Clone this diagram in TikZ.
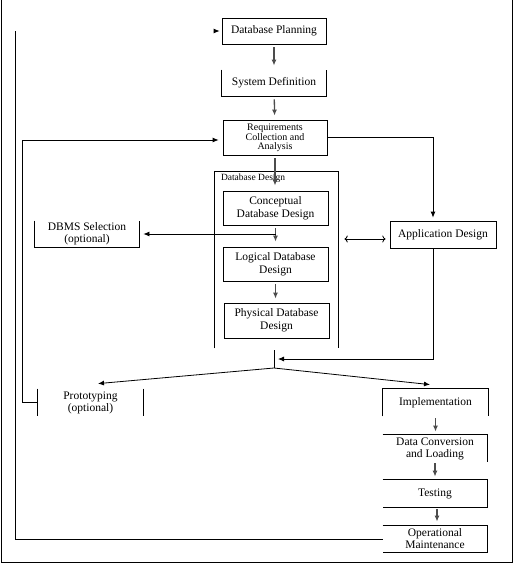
\documentclass[tikz,border=0pt]{standalone}
\usepackage{fontspec}
\setmainfont{Liberation Serif}
\usetikzlibrary{arrows.meta,calc}
\tikzset{
    stage/.style={minimum width=104pt, minimum height=26pt, inner sep=0pt, align=center,
        font=\fontsize{11.5}{12}\selectfont},
    tall/.style={minimum width=105pt, minimum height=34pt, font=\fontsize{11.5}{13}\selectfont},
    flow/.style={-{Latex[length=6pt,width=5pt]}, line width=1.3pt, black!70,
        shorten >=4pt, shorten <=3pt},
    link/.style={-{Latex[length=6pt,width=5pt]}, line width=0.8pt},
}
\begin{document}
\begin{tikzpicture}[x=1pt, y=-1pt, line width=0.8pt]
    \useasboundingbox (0,0) rectangle (516,567);
    \draw (1,0) |- (512,562) -- (512,0);
    \node[stage, draw] (plan) at (274,31) {Database Planning};
    \node[stage] (sysdef) at (274,83) {System Definition};
    \node[stage, draw, minimum height=35pt, font=\fontsize{10}{9}\selectfont] (req) at (275,137.5) {Requirements\\Collection and\\Analysis};
    \node[minimum width=123pt, minimum height=176pt, inner sep=0pt] (dbd) at (276.5,260) {};
    \node[font=\fontsize{9.5}{10}\selectfont, anchor=north west, inner sep=1pt] (dbdlabel) at ([xshift=5pt,yshift=-1pt]dbd.north west) {Database Design};
    \node[stage, tall, draw] (concept) at (275.5,208) {Conceptual\\Database Design};
    \node[stage, tall, draw] (logical) at (275.5,264) {Logical Database\\Design};
    \node[stage, tall, draw, minimum height=35pt] (physical) at (276.5,320.5) {Physical Database\\Design};
    \node[stage] (dbms) at (87,234) {DBMS Selection\\(optional)};
    \node[stage, draw, minimum width=106pt, minimum height=27pt] (app) at (443,234.5) {Application Design};
    \node[stage, minimum width=105pt, minimum height=27pt] (proto) at (90.5,402.5) {Prototyping\\(optional)};
    \node[stage, minimum width=105pt, minimum height=27pt] (impl) at (435.5,402.5) {Implementation};
    \node[stage, minimum height=27pt] (conv) at (435,448.5) {Data Conversion\\and Loading};
    \node[stage, minimum height=27pt] (test) at (435,493.5) {Testing};
    \node[stage] (oper) at (435,539) {Operational\\Maintenance};
    \coordinate (forktop) at (274,350);
    \coordinate (fork) at (274,368);
    % open sides, as in the original
    \draw (sysdef.north west) -- (sysdef.south west) -- (sysdef.south east) -- (sysdef.north east);
    \draw (dbd.south west) |- (dbd.north east) -- (dbd.south east);
    \draw (dbms.north west) |- (dbms.south east) -- (dbms.north east);
    \draw (proto.north west) -- (proto.south west) (proto.north east) -- (proto.south east);
    \draw (impl.south west) |- (impl.north east) -- (impl.south east);
    \draw (conv.north west) -| (conv.south east);
    \draw (test.north west) -| (test.south east) -- (test.south west);
    \draw (oper.north west) -| (oper.south east) -- (oper.south west);
    \draw[flow] (plan) -- (sysdef);
    \draw[flow] (sysdef) -- (req);
    \draw[flow, shorten >=5pt] (req.south) -- (req.south |- concept.north);
    \draw[flow, shorten >=5pt] (concept.south) -- (concept.south |- logical.north);
    \draw[link, shorten >=4pt] (concept.south |- dbms.east) -- (dbms.east);
    \draw[flow] (logical.south) -- (logical.south |- physical.north);
    \draw[link, <->, shorten <=6pt, shorten >=4pt] ([yshift=-4.5pt]dbd.east |- app.west) -- ([yshift=-4.5pt]app.west);
    \draw[link, shorten >=3pt] (req.east) -| ([xshift=-10pt]app.north);
    \draw (forktop) -- (fork);
    \draw[link, shorten >=4pt] ([xshift=-10pt]app.south) |- ($(forktop)!0.5!(fork)$);
    \draw[link] (fork) -- ([xshift=7.5pt,yshift=5pt]proto.north);
    \draw[link] (fork) -- ([xshift=-5.5pt,yshift=4pt]impl.north);
    \draw[flow, shorten <=2pt, shorten >=3pt] (impl.south) -- (impl.south |- conv.north);
    \draw[flow, shorten <=1pt, shorten >=3pt] (conv.south) -- (conv.south |- test.north);
    \draw[flow, shorten <=2pt, shorten >=4pt] ([xshift=2pt]test.south) -- ([xshift=2pt]oper.north);
    \draw[link, shorten >=4pt] (proto.west) -| ([xshift=-200pt,yshift=-2.5pt]req.west) -- ([yshift=-2.5pt]req.west);
    \draw (oper.west) -| ([xshift=-206pt]plan.west);
    \draw[link] ([xshift=-8pt]plan.west) -- ([xshift=-2pt]plan.west);
\end{tikzpicture}
\end{document}
